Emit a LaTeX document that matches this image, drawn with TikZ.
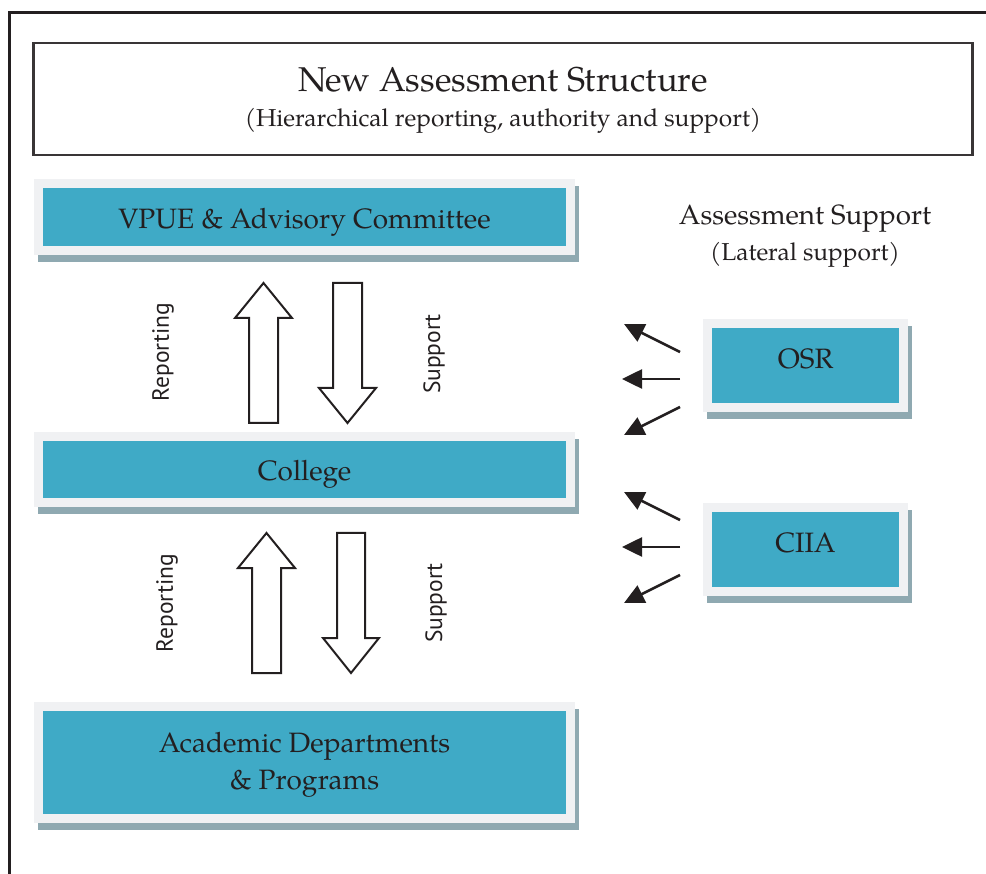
\documentclass[tikz,border=0pt]{standalone}
\usepackage{fontspec}
\setmainfont{TeX Gyre Pagella}
\newfontfamily\labelsans{PT Sans}
\usetikzlibrary{arrows.meta,backgrounds}
\definecolor{panelblue}{HTML}{3FAAC6}
\definecolor{panelrim}{HTML}{F0F1F3}
\definecolor{panelshade}{HTML}{8FA9B1}
\definecolor{ink}{HTML}{231F20}
\begin{document}
\begin{tikzpicture}[x=1pt,y=-1pt,
  panel/.style={fill=panelblue, text=ink, inner sep=0pt, align=center,
    font=\fontsize{28}{36}\selectfont},
  blockarrow/.style={draw=ink, line width=2pt, fill=white, line join=miter},
  sidearrow/.style={draw=ink, line width=2.6pt, -{Triangle[length=20pt,width=19pt]}},
  vlabel/.style={rotate=90, text=ink, font=\labelsans\fontsize{23.5}{26}\selectfont},
  heading/.style={text=ink, inner sep=0pt}]
\useasboundingbox (0,0) rectangle (986,874);

% page frame running off the right and bottom edges
\draw[ink, line width=3pt] (9,880) -- (9,13) -- (992,13);

% title block
\node[draw=ink!90, line width=2.2pt, minimum width=939pt, minimum height=112pt, inner sep=0pt]
  (titlebox) at (503,99) {};
\node[heading, font=\fontsize{34.4}{38}\selectfont] (title) at (503,80) {New Assessment Structure};
\node[heading, font=\fontsize{24.5}{28}\selectfont] (subtitle) at (503,121) {(Hierarchical reporting, authority and support)};

% hierarchy panels (text height/depth place the baseline below the centre)
\node[panel, minimum width=523pt, minimum height=58pt, text height=24pt, text depth=0pt]
  (vpue) at (304.5,217) {VPUE \& Advisory Committee};
\node[panel, minimum width=523pt, minimum height=57pt, text height=23pt, text depth=0pt]
  (college) at (304.5,469.5) {College};
\node[panel, minimum width=523pt, minimum height=103pt] (acad) at (304.5,762.5)
  {\rule{0pt}{24pt}Academic Departments\\[1pt] \& Programs};

% lateral support panels
\node[heading, font=\fontsize{27.8}{30}\selectfont] (supporthead) at (805,219) {Assessment Support};
\node[heading, font=\fontsize{24.5}{28}\selectfont] (supportsub) at (805,255) {(Lateral support)};
\node[panel, minimum width=187pt, minimum height=75pt, text height=7pt, text depth=0pt]
  (osr) at (805.5,365.5) {OSR};
\node[panel, minimum width=187pt, minimum height=75pt, text height=7pt, text depth=0pt]
  (ciia) at (805.5,549.5) {CIIA};

% light rim and drop shade behind every panel
\begin{scope}[on background layer]
\foreach \p in {vpue,college,acad,osr,ciia} {
  \fill[panelshade] ([shift={(-5,-2)}]\p.north west) rectangle ([shift={(12.5,15.5)}]\p.south east);
  \fill[panelrim] ([shift={(-9,-9)}]\p.north west) rectangle ([shift={(8.5,8.5)}]\p.south east);
}
\end{scope}

% reporting / support block arrows: VPUE <-> College
\draw[blockarrow] (263.5,283) -- (292,318) -- (278,318) -- (278,423) -- (249,423) -- (249,318) -- (235,318) -- cycle;
\draw[blockarrow] (333,283) -- (362,283) -- (362,388) -- (376,388) -- (347.5,423) -- (319,388) -- (333,388) -- cycle;
\node[vlabel] (rep1) at (163,352) {Reporting};
\node[vlabel] (sup1) at (434,354) {Support};

% reporting / support block arrows: College <-> Departments
\draw[blockarrow] (266.5,533) -- (295,568) -- (281,568) -- (281,673) -- (252,673) -- (252,568) -- (238,568) -- cycle;
\draw[blockarrow] (337,533) -- (365,533) -- (365,638) -- (379,638) -- (351,673) -- (323,638) -- (337,638) -- cycle;
\node[vlabel] (rep2) at (167,603) {Reporting};
\node[vlabel] (sup2) at (436,603) {Support};

% lateral support arrows
\coordinate (o1) at (680,352); \coordinate (o1e) at (624,324);
\coordinate (o2) at (680,379); \coordinate (o2e) at (622,379);
\coordinate (o3) at (680,407); \coordinate (o3e) at (624,435);
\coordinate (c1) at (680,520); \coordinate (c1e) at (624,492);
\coordinate (c2) at (680,547); \coordinate (c2e) at (622,547);
\coordinate (c3) at (680,575); \coordinate (c3e) at (624,603);
\draw[sidearrow] (o1) -- (o1e);
\draw[sidearrow] (o2) -- (o2e);
\draw[sidearrow] (o3) -- (o3e);
\draw[sidearrow] (c1) -- (c1e);
\draw[sidearrow] (c2) -- (c2e);
\draw[sidearrow] (c3) -- (c3e);
\end{tikzpicture}
\end{document}
